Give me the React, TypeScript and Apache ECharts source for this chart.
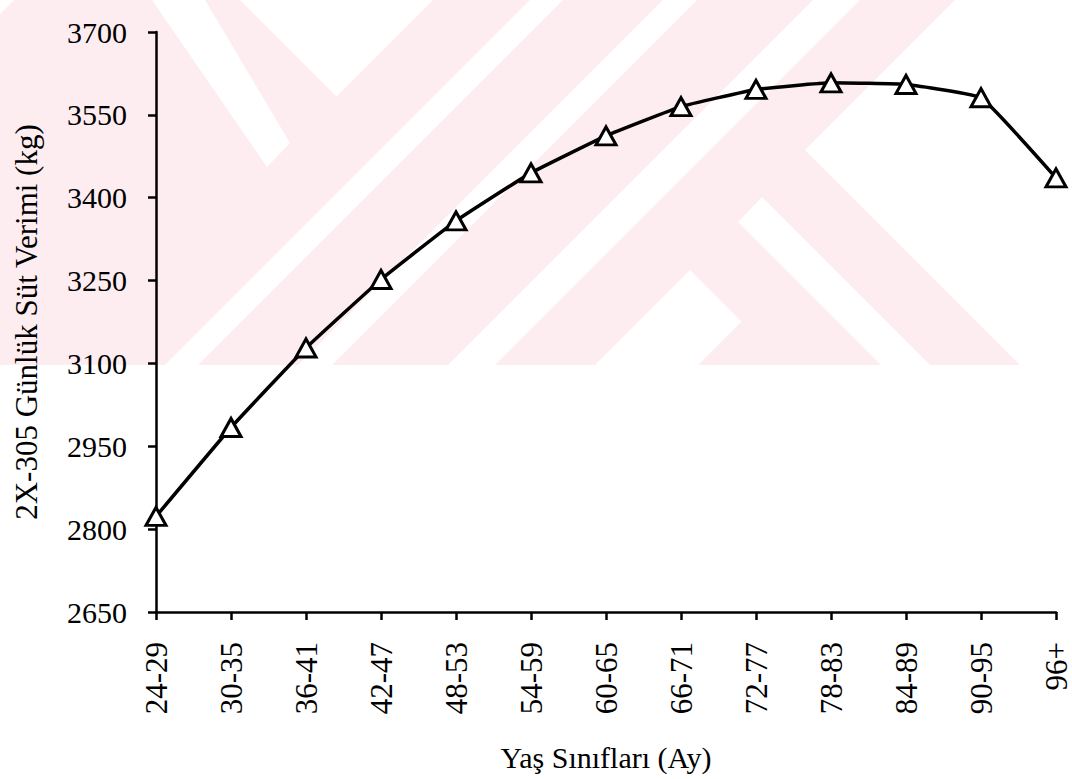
import React, { useEffect, useRef } from 'react';
import * as echarts from 'echarts';

const categories = ['24-29', '30-35', '36-41', '42-47', '48-53', '54-59', '60-65', '66-71', '72-77', '78-83', '84-89', '90-95', '96+'];
const milkYield = [2823, 2984, 3128, 3252, 3358, 3445, 3512, 3565, 3596, 3608, 3605, 3581, 3436];
const yMin = 2650;
const yMax = 3700;
const yStep = 150;
const xTitle = 'Yaş Sınıfları (Ay)';
const yTitle = '2X-305 Günlük Süt Verimi (kg)';

const FONT = "'Liberation Serif', 'Times New Roman', serif";
const PINK = '#fdedf0';

// faint watermark (decorative background)
const pinkBase: number[][] = [[0, 0], [955, 0], [805, 150], [1020, 365], [0, 365]];
const whiteCuts: number[][][] = [
  [[0, 0], [14, 0], [0, 14]],
  [[152, 0], [205, 0], [290, 143], [267, 167]],
  [[240, 0], [433, 0], [336.5, 96.5]],
  [[530, 0], [563, 0], [198, 365], [165, 365]],
  [[663, 0], [697, 0], [332, 365], [298, 365]],
  [[813, 0], [860, 0], [495, 365], [448, 365]],
  [[690, 270], [741.5, 321.5], [698, 365], [595, 365]],
  [[762, 197], [930, 365], [881, 365], [738, 222]],
];

export default function App() {
  const ref = useRef<HTMLDivElement>(null);
  useEffect(() => {
    if (!ref.current) return;
    const chart = echarts.init(ref.current, undefined, { renderer: 'svg' });
    const graphicElements: any[] = [
      { type: 'polygon', z: -10, silent: true, shape: { points: pinkBase }, style: { fill: PINK } },
      ...whiteCuts.map((pts) => ({ type: 'polygon', z: -9, silent: true, shape: { points: pts }, style: { fill: '#ffffff' } })),
    ];
    chart.setOption({
      animation: false,
      backgroundColor: '#ffffff',
      textStyle: { fontFamily: FONT },
      graphic: { elements: graphicElements },
      grid: { left: 156, right: 16, top: 32, bottom: 167, containLabel: false },
      xAxis: {
        type: 'category',
        data: categories,
        boundaryGap: false,
        axisLine: { show: true, lineStyle: { color: '#000', width: 2.5 } },
        axisTick: { show: true, length: 8, interval: 0, lineStyle: { color: '#000', width: 2.5 } },
        axisLabel: { rotate: 90, margin: 30, interval: 0, fontSize: 31, color: '#000', fontFamily: FONT },
        splitLine: { show: false },
        name: xTitle,
        nameLocation: 'middle',
        nameGap: 130,
        nameTextStyle: { fontSize: 30, color: '#000', fontFamily: FONT },
      },
      yAxis: {
        type: 'value',
        min: yMin,
        max: yMax,
        interval: yStep,
        axisLine: { show: true, lineStyle: { color: '#000', width: 2.5 } },
        axisTick: { show: true, length: 8, lineStyle: { color: '#000', width: 2.5 } },
        axisLabel: { margin: 29, fontSize: 30, color: '#000', fontFamily: FONT, formatter: (v: number) => String(v) },
        splitLine: { show: false },
        name: yTitle,
        nameLocation: 'middle',
        nameRotate: 90,
        nameGap: 114,
        nameTextStyle: { fontSize: 31, color: '#000', fontFamily: FONT },
      },
      series: [
        {
          type: 'line',
          data: milkYield,
          smooth: 0.1,
          symbol: 'triangle',
          symbolSize: [20, 18],
          showAllSymbol: true,
          lineStyle: { color: '#000', width: 3.5 },
          itemStyle: { color: '#fff', borderColor: '#000', borderWidth: 3 },
          z: 3,
        },
      ],
    });
    return () => chart.dispose();
  }, []);
  return <div ref={ref} style={{ position: 'absolute', left: 0, top: 0, width: 1072, height: 779 }} />;
}
